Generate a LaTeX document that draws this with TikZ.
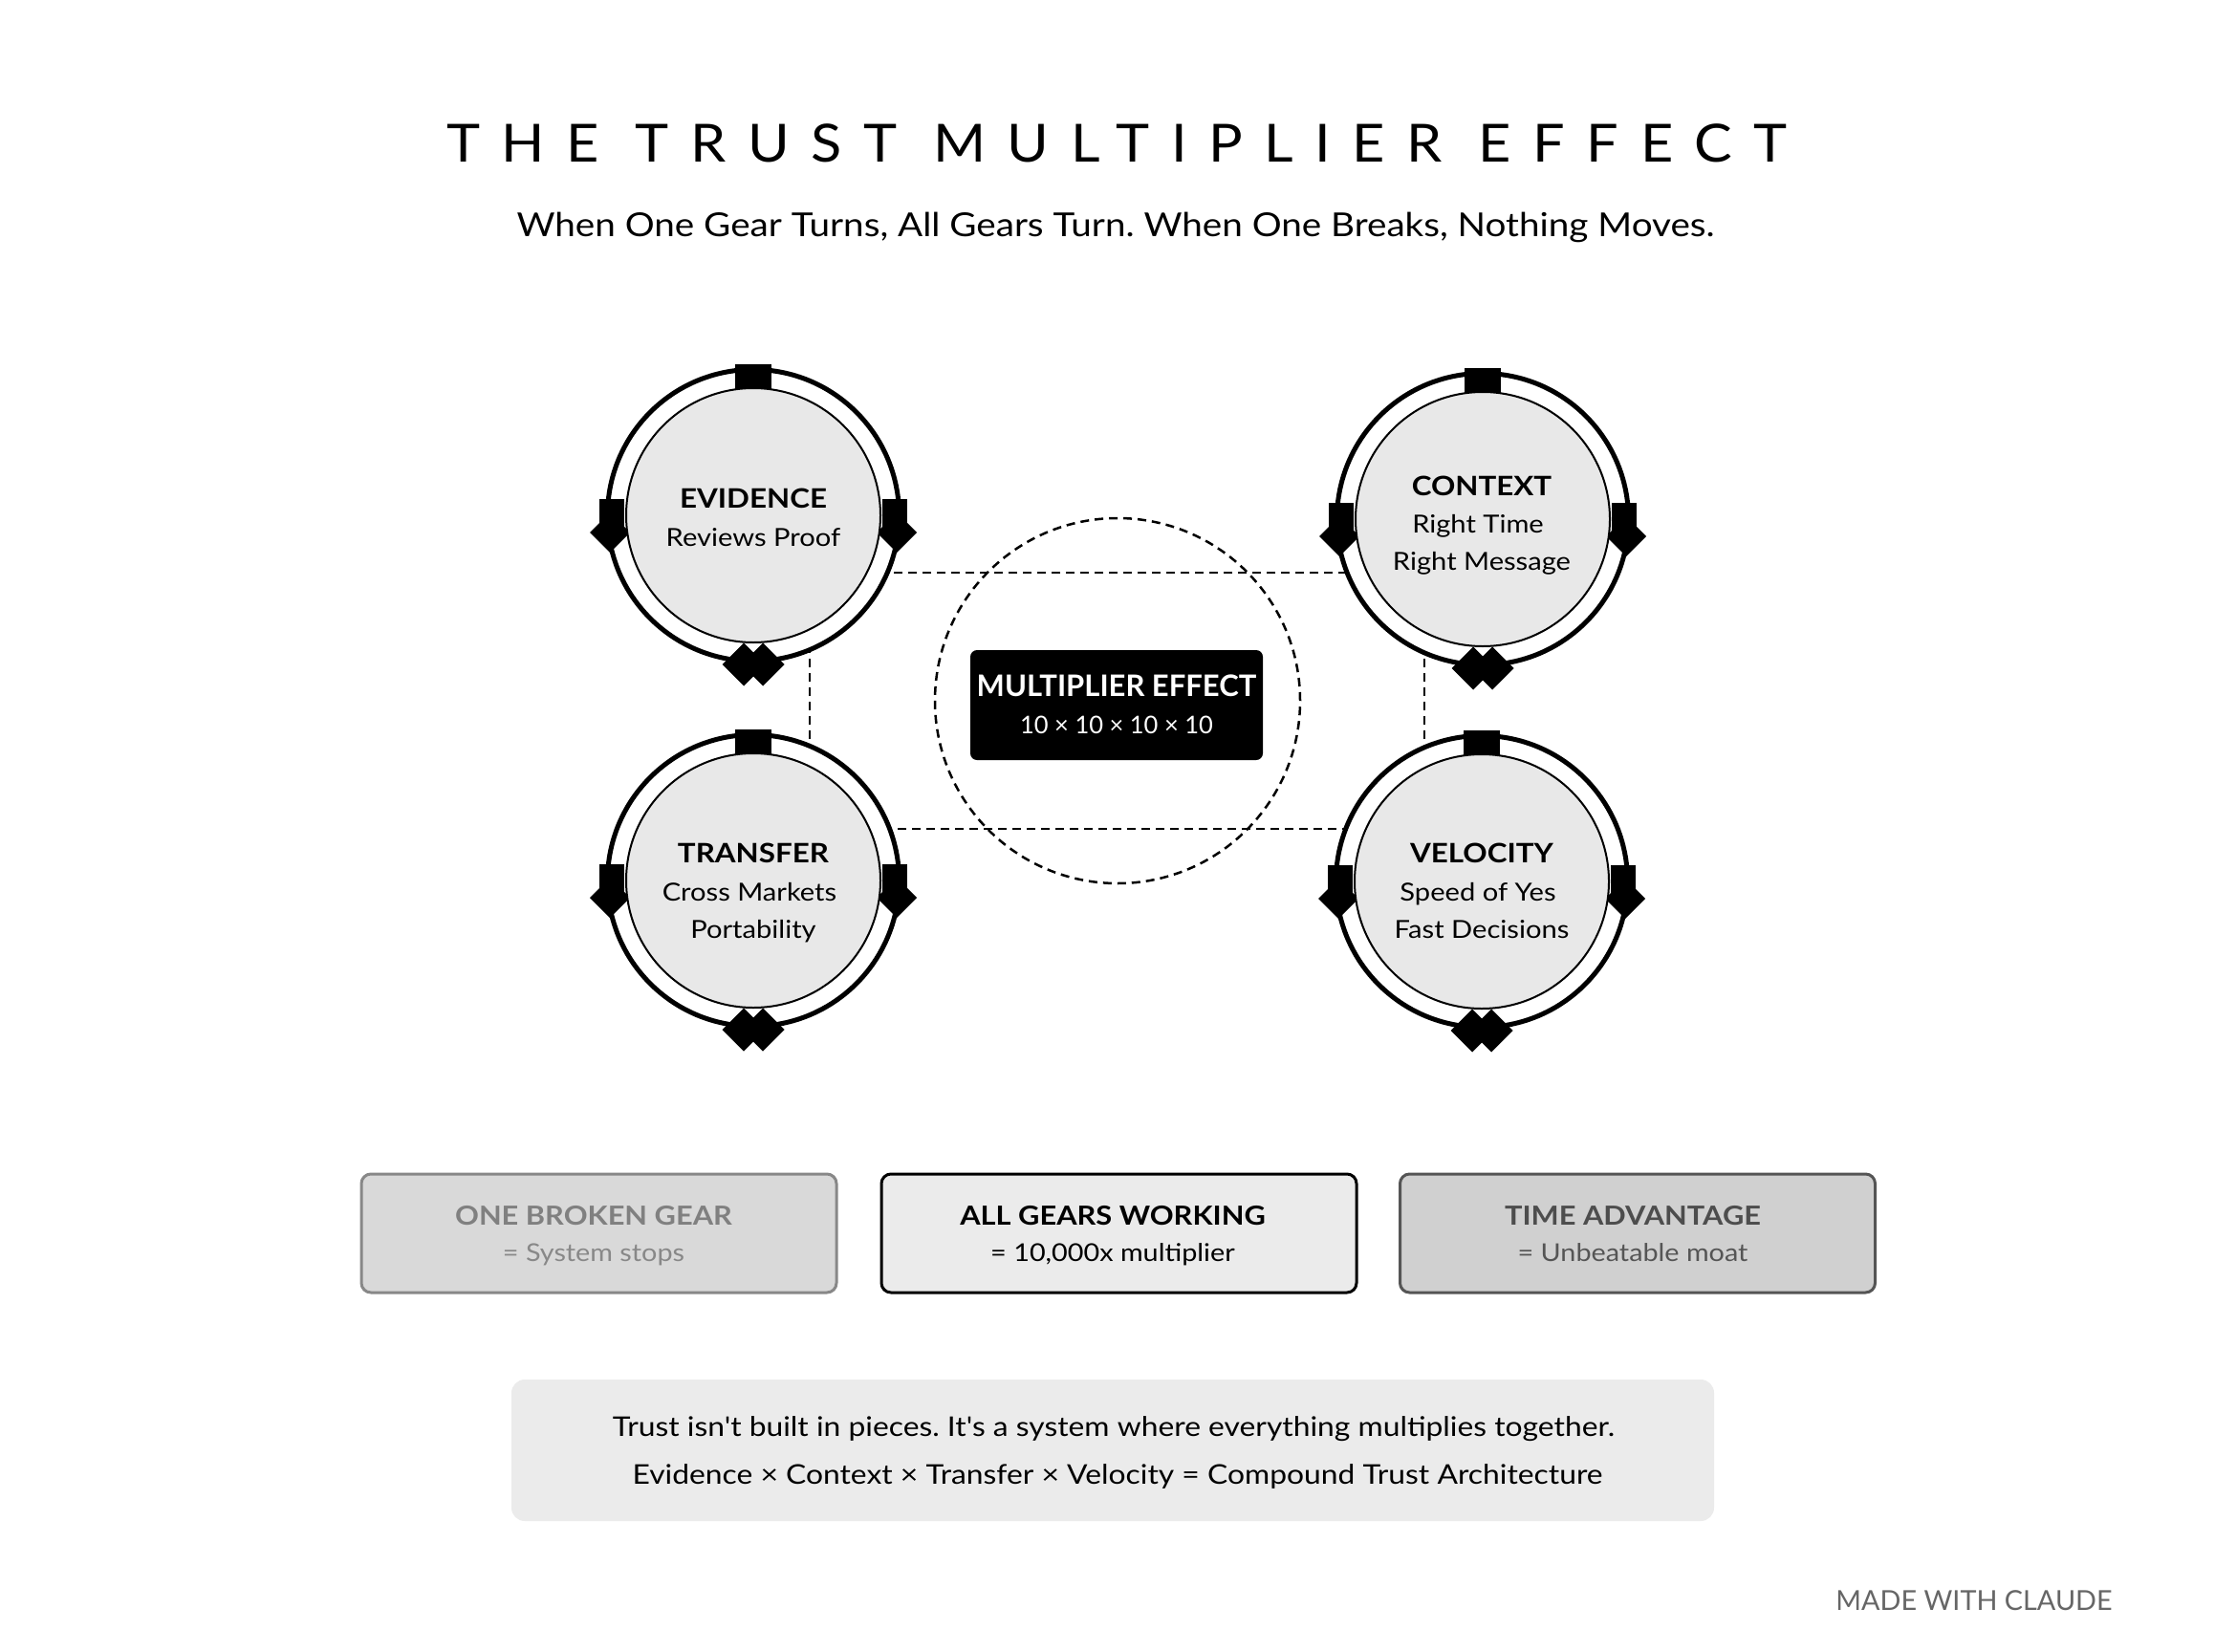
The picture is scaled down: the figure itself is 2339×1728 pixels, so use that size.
\documentclass[tikz,border=0pt]{standalone}
\usepackage{fontspec}
\setmainfont{Lato}[FakeStretch=1.12]
\newfontfamily\plainlato{Lato}
\newfontfamily\notefont{Lato}[FakeStretch=1.12, Ligatures=TeXOff]
\newfontfamily\titlefont{Lato}[FakeStretch=1.08, LetterSpace=41]
\frenchspacing
\definecolor{gearfill}{HTML}{E8E8E8}
\definecolor{boxAfill}{HTML}{D9D9D9}
\definecolor{boxAline}{HTML}{888888}
\definecolor{boxAtext}{HTML}{808080}
\definecolor{boxBfill}{HTML}{EBEBEB}
\definecolor{boxCfill}{HTML}{D0D0D0}
\definecolor{boxCline}{HTML}{555555}
\definecolor{boxCtext}{HTML}{4D4D4D}
\definecolor{notefill}{HTML}{EBEBEB}
\definecolor{credit}{HTML}{666666}
\tikzset{
  dashline/.style={draw=black, line width=2.5pt, dash pattern=on 9pt off 6pt},
  gearcore/.style={circle, draw=black, line width=2pt, fill=gearfill, minimum size=266pt, inner sep=0pt},
  gtitle/.style={anchor=base, inner sep=0pt, font=\bfseries\fontsize{28}{34}\selectfont},
  gsub/.style={anchor=base, inner sep=0pt, font=\fontsize{26}{31}\selectfont},
  statbox/.style={rounded corners=10pt, line width=3pt, minimum width=497pt, minimum height=124pt, inner sep=0pt},
  stitle/.style={anchor=base, inner sep=0pt, font=\bfseries\fontsize{27.5}{33}\selectfont},
  ssub/.style={anchor=base, inner sep=0pt, font=\fontsize{25.7}{31}\selectfont},
  notetext/.style={anchor=base, inner sep=0pt, font=\notefont\fontsize{28.4}{34}\selectfont},
}
\newcommand\drawgear[3]{%
  \begin{scope}[shift={(#2,#3)}]
    \draw[line width=5pt, fill=white] (0,0) circle (152.5);
    \fill (-19,-158) rectangle (19,-132);
    \fill (-161,-17) rectangle (-135,21);
    \fill (135,-17) rectangle (161,21);
    \fill (-150,-3) -- (-129,18) -- (-150,39) -- (-171,18) -- cycle;
    \fill (150,-3) -- (171,18) -- (150,39) -- (129,18) -- cycle;
    \fill (-10,133.5) -- (12.5,156) -- (-10,178.5) -- (-32.5,156) -- cycle;
    \fill (10,133.5) -- (32.5,156) -- (10,178.5) -- (-12.5,156) -- cycle;
  \end{scope}
  \node[gearcore] (#1) at (#2,#3) {};
}
\begin{document}
\begin{tikzpicture}[x=1pt,y=-1pt]
\useasboundingbox[fill=white] (0,0) rectangle (2339,1728);

% title
\node[anchor=base, inner sep=0pt, font=\titlefont\fontsize{55}{66}\selectfont] (title) at (1168,170) {THE TRUST MULTIPLIER EFFECT};
\node[anchor=base, inner sep=0pt, font=\fontsize{34.5}{42}\selectfont] (subtitle) at (1167,248) {When One Gear Turns, All Gears Turn. When One Breaks, Nothing Moves.};

% dashed links
\coordinate (r1) at (847,599);
\coordinate (r2) at (1490,867);
\draw[dashline] (r1) rectangle (r2);
\node[circle, dashline, minimum size=382pt, inner sep=0pt] (hub) at (1169,733) {};

% gears
\drawgear{evidence}{788}{539}
\drawgear{context}{1551}{543}
\drawgear{transfer}{788}{921}
\drawgear{velocity}{1550}{922}

\node[gtitle] (ev1) at (788,531) {EVIDENCE};
\node[gsub]   (ev2) at (788,571) {Reviews Proof};

\node[gtitle] (ct1) at (1550,518) {CONTEXT};
\node[gsub]   (ct2) at (1546,557.5) {Right Time};
\node[gsub]   (ct3) at (1550,596) {Right Message};

\node[gtitle] (tr1) at (788,902.5) {TRANSFER};
\node[gsub]   (tr2) at (784,942.5) {Cross Markets};
\node[gsub]   (tr3) at (788,981) {Portability};

\node[gtitle] (ve1) at (1550,902.5) {VELOCITY};
\node[gsub]   (ve2) at (1546,942.5) {Speed of Yes};
\node[gsub]   (ve3) at (1550,981) {Fast Decisions};

% center box
\node[fill=black, rounded corners=7pt, minimum width=306pt, minimum height=115pt, inner sep=0pt] (mult) at (1168,737.5) {};
\node[anchor=base, inner sep=0pt, text=white, font=\plainlato\bfseries\fontsize{31}{37}\selectfont] (mult1) at (1168,728) {MULTIPLIER EFFECT};
\node[anchor=base, inner sep=0pt, text=white, font=\plainlato\fontsize{25.5}{30}\selectfont] (mult2) at (1168,767) {10 × 10 × 10 × 10};

% status boxes
\node[statbox, draw=boxAline, fill=boxAfill] (broken) at (626.5,1290) {};
\node[stitle, text=boxAtext] (broken1) at (621,1281) {ONE BROKEN GEAR};
\node[ssub, text=boxAline] (broken2) at (621,1319) {= System stops};

\node[statbox, draw=black, fill=boxBfill] (working) at (1170.5,1290) {};
\node[stitle, text=black] (working1) at (1164,1281) {ALL GEARS WORKING};
\node[ssub, text=black] (working2) at (1164,1319) {= 10,000x multiplier};

\node[statbox, draw=boxCline, fill=boxCfill] (time) at (1713,1290) {};
\node[stitle, text=boxCtext] (time1) at (1708,1281) {TIME ADVANTAGE};
\node[ssub, text=boxCline] (time2) at (1708,1319) {= Unbeatable moat};

% note
\node[fill=notefill, rounded corners=14pt, minimum width=1258pt, minimum height=148pt, inner sep=0pt] (note) at (1164,1517) {};
\node[notetext] (note1) at (1165,1502) {Trust isn't built in pieces. It's a system where everything multiplies together.};
\node[notetext] (note2) at (1169,1552) {Evidence × Context × Transfer × Velocity = Compound Trust Architecture};

% credit
\node[anchor=base, inner sep=0pt, text=credit, font=\plainlato\fontsize{28.8}{34}\selectfont] (made) at (2065,1684) {MADE WITH CLAUDE};
\end{tikzpicture}
\end{document}
